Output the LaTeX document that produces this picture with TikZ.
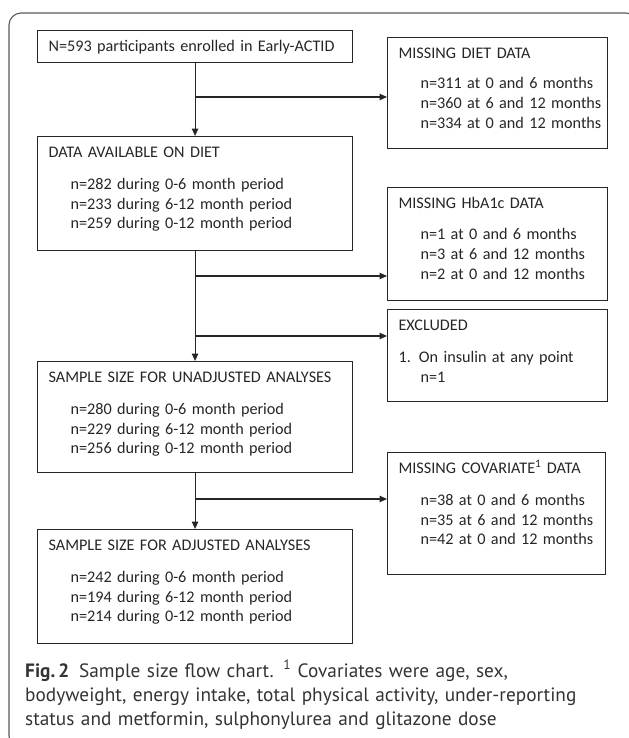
\documentclass[tikz,border=0pt]{standalone}
\usepackage{fontspec}
\setmainfont{Carlito}
\newfontfamily\capfont{PT Sans}
\usetikzlibrary{arrows.meta}

\newcommand{\itemline}[1]{\mbox{\hspace*{22bp}#1}}

\begin{document}
\begin{tikzpicture}[x=1bp, y=-1bp]

\tikzset{mybox/.style={draw=black!85, line width=1.1bp, anchor=north west, align=left, inner xsep=11bp, inner ysep=0pt, text height=21bp, font=\fontsize{16.2bp}{19.8bp}\selectfont, text=black!85}}
\tikzset{myarrow/.style={draw=black!85, line width=1.1bp, -{Triangle[length=7.5bp, width=6.5bp]}}}

\useasboundingbox (0,0) rectangle (629,738);

% outer frame
\draw[draw=black!65, line width=1.1bp, rounded corners=12bp] (9,13) rectangle (638,748);

% left column
\node[mybox, text width=293bp, text depth=11bp] (start) at (37,30) {N=593 participants enrolled in Early-ACTID};

\node[mybox, text width=293bp, text depth=93bp] (avail) at (37,136) {DATA AVAILABLE ON DIET\\[12bp]
\itemline{n=282 during 0-6 month period}\\
\itemline{n=233 during 6-12 month period}\\
\itemline{n=259 during 0-12 month period}};

\node[mybox, text width=293bp, text depth=90bp] (unadj) at (37,361) {SAMPLE SIZE FOR UNADJUSTED ANALYSES\\[12bp]
\itemline{n=280 during 0-6 month period}\\
\itemline{n=229 during 6-12 month period}\\
\itemline{n=256 during 0-12 month period}};

\node[mybox, text width=293bp, text depth=93bp] (adj) at (37,529) {SAMPLE SIZE FOR ADJUSTED ANALYSES\\[12bp]
\itemline{n=242 during 0-6 month period}\\
\itemline{n=194 during 6-12 month period}\\
\itemline{n=214 during 0-12 month period}};

% right column
\node[mybox, text width=198bp, text depth=90bp] (missdiet) at (387,37) {MISSING DIET DATA\\[10.5bp]
\itemline{n=311 at 0 and 6 months}\\
\itemline{n=360 at 6 and 12 months}\\
\itemline{n=334 at 0 and 12 months}};

\node[mybox, text width=198bp, text depth=92bp] (misshba) at (387,187) {MISSING HbA1c DATA\\[11.5bp]
\itemline{n=1 at 0 and 6 months}\\
\itemline{n=3 at 6 and 12 months}\\
\itemline{n=2 at 0 and 12 months}};

\node[mybox, text width=198bp, text depth=71bp] (excl) at (387,309) {EXCLUDED\\[12.5bp]
1. On insulin at any point\\
\itemline{n=1}};

\node[mybox, text width=196bp, text depth=101bp] (misscov) at (387,452) {MISSING COVARIATE\textsuperscript{1} DATA\\[12bp]
\itemline{n=38 at 0 and 6 months}\\
\itemline{n=35 at 6 and 12 months}\\
\itemline{n=42 at 0 and 12 months}};

% connectors
\draw[myarrow] (start.south) -- (avail.north);
\draw[myarrow] (avail.south) -- (unadj.north);
\draw[myarrow] (unadj.south) -- (adj.north);

\coordinate (b1) at (194.5,97);
\coordinate (b2) at (194.5,276);
\coordinate (b3) at (194.5,336);
\coordinate (b4) at (194.5,499);
\draw[myarrow] (b1) -- (b1 -| missdiet.west);
\draw[myarrow] (b2) -- (b2 -| misshba.west);
\draw[myarrow] (b3) -- (b3 -| excl.west);
\draw[myarrow] (b4) -- (b4 -| misscov.west);

% caption
\node[anchor=base west, align=left, text width=600bp, inner sep=0pt, text=black!80, font=\capfont\fontsize{19.3bp}{24bp}\selectfont] (caption) at (25,677) {\textbf{Fig.\,2}\enspace Sample size flow chart. \textsuperscript{1} Covariates were age, sex,\\
bodyweight, energy intake, total physical activity, under-reporting\\
status and metformin, sulphonylurea and glitazone dose};

\end{tikzpicture}
\end{document}
